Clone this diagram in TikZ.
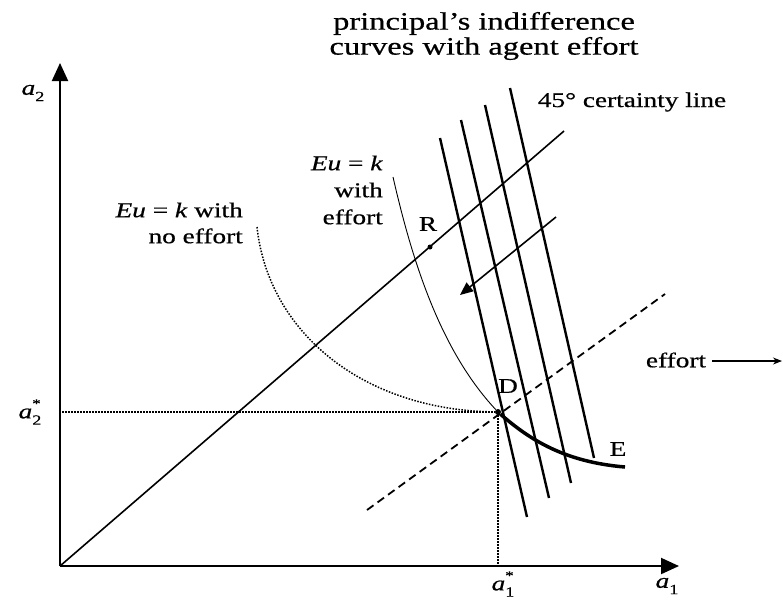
\documentclass[tikz,border=0pt]{standalone}
\usepackage{fontspec}
\setmainfont{Liberation Serif}[FakeStretch=1.3,FakeBold=0.6]
\usetikzlibrary{arrows.meta}
\newcommand{\starsub}[2]{\textit{#1}\makebox[0pt][l]{\raisebox{0.5em}{\fontsize{13}{13}\selectfont *}}\raisebox{-0.3em}{\fontsize{14}{14}\selectfont #2}}
\newcommand{\plainsub}[2]{\textit{#1}\raisebox{-0.3em}{\fontsize{14}{14}\selectfont #2}}
\begin{document}
\begin{tikzpicture}[x=1pt,y=-1pt,
  font=\fontsize{21}{25}\selectfont,
  axisline/.style={line width=2pt,-{Triangle[length=18pt,width=16pt]}},
  certline/.style={line width=1.6pt},
  indiff/.style={line width=2.4pt},
  thincurve/.style={line width=0.9pt},
  thickcurve/.style={line width=3.5pt},
  dotline/.style={line width=1.5pt,dash pattern=on 1.5pt off 1.5pt},
  dashline/.style={line width=1.8pt,dash pattern=on 8pt off 5pt},
  movearrow/.style={line width=1.6pt,-{Triangle[length=13pt,width=11pt]}},
  effarrow/.style={line width=1.2pt,-{Stealth[length=9pt,width=7pt]}},
  lbl/.style={inner sep=0pt},
  pt/.style={circle,fill=black,inner sep=0pt,minimum size=6pt}]
\useasboundingbox (0,0) rectangle (783,603);
% axes
\coordinate (O) at (60,566);
\coordinate (Ytop) at (60,63);
\coordinate (Xend) at (679,566);
\draw[axisline] (O) -- (Ytop);
\draw[axisline] (O) -- (Xend);
\node[lbl] (a2) at (33,93) {\plainsub{a}{2}};
\node[lbl] (a1) at (667,586) {\plainsub{a}{1}};
\node[lbl] (a2s) at (30,412) {\starsub{a}{2}};
\node[lbl] (a1s) at (503,584) {\starsub{a}{1}};
% points
\node[pt] (D) at (498,412) {};
\node[pt,minimum size=5pt] (R) at (430,247) {};
\coordinate (Cend) at (564,131);
\coordinate (Y2) at (62,412);
\coordinate (X1) at (498,566);
% dotted guides
\draw[dotline] (Y2) -- (D);
\draw[dotline] (D) -- (X1);
% 45 degree line
\draw[certline] (O) -- (Cend);
% dashed effort line
\coordinate (DA) at (367,510);
\coordinate (DB) at (665,294);
\draw[dashline] (DA) -- (DB);
% indifference lines
\coordinate (L1a) at (440,138); \coordinate (L1b) at (527,517);
\coordinate (L2a) at (461,120); \coordinate (L2b) at (549,498);
\coordinate (L3a) at (485,105); \coordinate (L3b) at (571,483);
\coordinate (L4a) at (510,88);  \coordinate (L4b) at (594,458);
\draw[indiff] (L1a) -- (L1b);
\draw[indiff] (L2a) -- (L2b);
\draw[indiff] (L3a) -- (L3b);
\draw[indiff] (L4a) -- (L4b);
% curves
\coordinate (WE) at (393,177);
\coordinate (NE) at (257,227);
\coordinate (Ept) at (625,467);
\draw[thincurve] (WE) .. controls (412,260) and (440,350) .. (D);
\draw[dotline] (NE) .. controls (268,330) and (360,410) .. (D);
\draw[thickcurve] (D) .. controls (530,440) and (565,462) .. (Ept);
% movement arrow
\coordinate (MA) at (556,217);
\coordinate (MB) at (460,295);
\draw[movearrow] (MA) -- (MB);
% labels
\node[lbl] (Rl) at (428,224) {R};
\node[lbl] (Dl) at (508,386) {D};
\node[lbl] (El) at (618,449) {E};
\node[lbl,align=center,font=\fontsize{25}{25}\selectfont] (title) at (484,36) {principal's indifference\\curves with agent effort};
\node[lbl] (cert) at (632,102) {45° certainty line};
\node[lbl,align=right,anchor=east,font=\fontsize{21}{27}\selectfont] (withE) at (383,190) {\textit{Eu} = \textit{k}\\with\\effort};
\node[lbl,align=right,anchor=east,font=\fontsize{21}{26}\selectfont] (noE) at (243,223) {\textit{Eu} = \textit{k} with\\no effort};
\node[lbl] (eff) at (676,360) {effort};
\coordinate (EffEnd) at (782,361);
\draw[effarrow] (eff.east) ++(6,1) coordinate (EffStart) -- (EffEnd);
\end{tikzpicture}
\end{document}
